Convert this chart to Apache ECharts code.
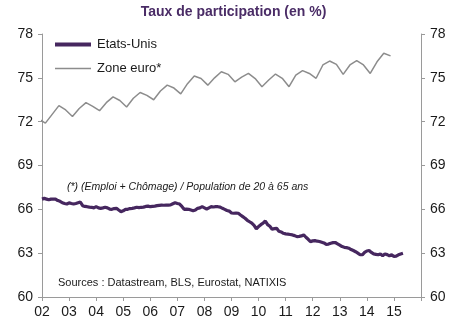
<!DOCTYPE html>
<html>
<head>
<meta charset="utf-8">
<script src="https://cdn.jsdelivr.net/npm/echarts@6/dist/echarts.min.js"></script>
<style>html,body{margin:0;padding:0;background:#fff}#c{width:467px;height:323px}</style>
</head>
<body>
<div id="c"></div>
<script>
// ---- Data ----
var titleText = 'Taux de participation (en %)';
var noteText = '(*) (Emploi + Chômage) / Population de 20 à 65 ans';
var sourceText = 'Sources : Datastream, BLS, Eurostat, NATIXIS';
var usName = 'Etats-Unis';
var euName = 'Zone euro*';
var xTickYears = [2002, 2003, 2004, 2005, 2006, 2007, 2008, 2009, 2010, 2011, 2012, 2013, 2014, 2015];
var yTicks = [60, 63, 66, 69, 72, 75, 78];

// US: monthly, starting Jan 2002
var usStart = 2002;
var usMonthly = [
  66.7, 66.75, 66.7, 66.65, 66.7, 66.7, 66.7, 66.6, 66.55, 66.45, 66.4, 66.36,
  66.45, 66.4, 66.36, 66.4, 66.45, 66.5, 66.25, 66.2, 66.18, 66.15, 66.14, 66.1,
  66.18, 66.1, 66.07, 66.1, 66.14, 66.1, 66.02, 66.0, 66.05, 66.07, 65.95, 65.84,
  65.9, 66.0, 66.0, 66.05, 66.07, 66.1, 66.14, 66.12, 66.14, 66.15, 66.2, 66.22,
  66.18, 66.2, 66.22, 66.25, 66.27, 66.29, 66.28, 66.29, 66.29, 66.3, 66.38, 66.45,
  66.4, 66.36, 66.2, 66.0, 66.02, 66.0, 65.95, 65.9, 65.95, 66.07, 66.1, 66.18,
  66.1, 66.02, 66.1, 66.18, 66.16, 66.18, 66.18, 66.15, 66.07, 66.0, 65.92, 65.88,
  65.75, 65.73, 65.75, 65.73, 65.61, 65.5, 65.39, 65.25, 65.15, 65.05, 64.9, 64.67,
  64.82, 64.95, 65.05, 65.2, 64.95, 64.84, 64.64, 64.68, 64.7, 64.5, 64.45, 64.36,
  64.32, 64.3, 64.28, 64.25, 64.2, 64.13, 64.15, 64.18, 64.25, 64.09, 63.95, 63.79,
  63.84, 63.86, 63.82, 63.8, 63.75, 63.7, 63.6, 63.62, 63.68, 63.72, 63.73, 63.64,
  63.55, 63.45, 63.4, 63.38, 63.34, 63.25, 63.18, 63.1, 63.0, 62.89, 62.89, 63.05,
  63.15, 63.18, 63.05, 62.95, 62.92, 62.89, 62.95, 62.82, 62.95, 62.9, 62.82, 62.89,
  62.77, 62.8, 62.89, 62.95, 63.0
];

// Euro zone: quarterly, starting 2001 Q4
var euStartYear = 2001, euStartQuarter = 4;
var euQuarterly = [
  72.2,
  71.9, 72.5, 73.1, 72.8,
  72.35, 72.9, 73.3, 73.05,
  72.75, 73.3, 73.7, 73.45,
  73.0, 73.6, 74.0, 73.8,
  73.5, 74.1, 74.5, 74.3,
  73.9, 74.6, 75.12, 74.96,
  74.5, 75.0, 75.42, 75.24,
  74.73, 75.05, 75.3, 74.95,
  74.39, 74.85, 75.26, 74.97,
  74.39, 75.19, 75.49, 75.3,
  74.97, 75.88, 76.15, 75.92,
  75.24, 75.88, 76.17, 75.88,
  75.3, 76.1, 76.68, 76.5
];

// ---- Build series points ----
var usData = usMonthly.map(function (v, i) { return [usStart + i / 12, v]; });
var euData = euQuarterly.map(function (v, i) {
  var q = euStartQuarter - 1 + i;
  return [euStartYear + Math.floor(q / 4) + ((q % 4) + 0.5) / 4, v];
});

var US_COLOR = '#46275f';
var EU_COLOR = '#8c8c8c';
var AXIS_COLOR = '#9a9a9a';
var LABEL_COLOR = '#1a1a1a';
var FONT = 'Liberation Sans, Arial, sans-serif';

function yAxis(pos) {
  return {
    type: 'value', position: pos, min: 60, max: 78, interval: 3,
    axisLine: { show: true, lineStyle: { color: AXIS_COLOR, width: 1 } },
    axisTick: { show: true, length: 4, lineStyle: { color: AXIS_COLOR } },
    splitLine: { show: false },
    axisLabel: { color: LABEL_COLOR, fontSize: 14, fontFamily: FONT, margin: 9 }
  };
}

var chart = echarts.init(document.getElementById('c'), null, { renderer: 'canvas' });
chart.setOption({
  animation: false,
  backgroundColor: '#ffffff',
  title: {
    text: titleText, left: 'center', top: 0,
    textStyle: { color: '#4a2c66', fontSize: 14, fontWeight: 'bold', fontFamily: FONT }
  },
  grid: { left: 42, right: 46, top: 34, bottom: 26, containLabel: false },
  legend: {
    orient: 'vertical', left: 50, top: 33, itemGap: 11, itemWidth: 36, itemHeight: 14,
    textStyle: { color: LABEL_COLOR, fontSize: 13, fontFamily: FONT, padding: [0, 0, 0, 1] },
    data: [
      { name: usName, icon: 'path://M0 0H36V4H0Z' },
      { name: euName, icon: 'path://M0 0H36V1.5H0Z' }
    ]
  },
  xAxis: {
    type: 'value', min: 2002, max: 2016, interval: 1,
    axisLine: { show: true, lineStyle: { color: AXIS_COLOR, width: 1 } },
    axisTick: { show: true, length: 4, lineStyle: { color: AXIS_COLOR } },
    splitLine: { show: false },
    axisLabel: {
      color: LABEL_COLOR, fontSize: 14, fontFamily: FONT, margin: 8,
      formatter: function (v) { return xTickYears.indexOf(v) >= 0 ? String(v).slice(2) : ''; }
    }
  },
  yAxis: [yAxis('left'), yAxis('right')],
  graphic: [
    { type: 'text', left: 67, top: 182,
      style: { text: noteText, fill: '#1a1a1a', font: 'italic 10.5px ' + FONT } },
    { type: 'text', left: 58, top: 277,
      style: { text: sourceText, fill: '#1a1a1a', font: '11px ' + FONT } }
  ],
  series: [
    { name: usName, type: 'line', data: usData, yAxisIndex: 0, symbol: 'none',
      lineStyle: { color: US_COLOR, width: 3.2 }, itemStyle: { color: US_COLOR }, z: 3 },
    { name: euName, type: 'line', data: euData, yAxisIndex: 0, symbol: 'none',
      lineStyle: { color: EU_COLOR, width: 1.5 }, itemStyle: { color: EU_COLOR }, z: 2 }
  ]
});
</script>
</body>
</html>
